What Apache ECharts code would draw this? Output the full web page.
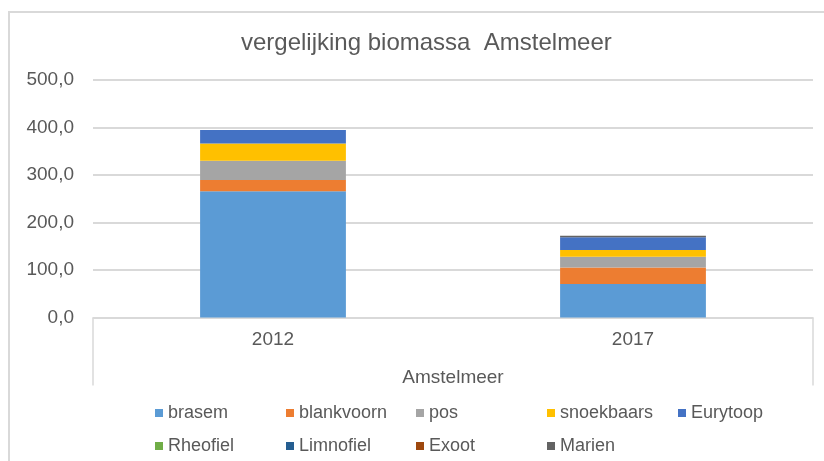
<!DOCTYPE html>
<html>
<head>
<meta charset="utf-8">
<script src="https://cdn.jsdelivr.net/npm/echarts@6/dist/echarts.min.js"></script>
<style>
  html, body { margin: 0; padding: 0; background: #ffffff; }
  #chart { width: 824px; height: 461px; }
</style>
</head>
<body>
<div id="chart"></div>
<script>
// Survey years
const years = ['2012', '2017'];

// Biomass per fish group (stacked), per year
const brasem     = [266.0, 70.5];
const blankvoorn = [23.5, 35.0];
const pos        = [40.5, 22.5];
const snoekbaars = [36.5, 14.0];
const eurytoop   = [28.0, 27.0];
const rheofiel   = [0, 0];
const limnofiel  = [0, 0];
const exoot      = [0, 0];
const marien     = [0.5, 3.0];

const yTicks = [0, 100, 200, 300, 400, 500];

const groups = [
  { name: 'brasem',     data: brasem,     color: '#5B9BD5' },
  { name: 'blankvoorn', data: blankvoorn, color: '#ED7D31' },
  { name: 'pos',        data: pos,        color: '#A5A5A5' },
  { name: 'snoekbaars', data: snoekbaars, color: '#FFC000' },
  { name: 'Eurytoop',   data: eurytoop,   color: '#4472C4' },
  { name: 'Rheofiel',   data: rheofiel,   color: '#70AD47' },
  { name: 'Limnofiel',  data: limnofiel,  color: '#255E91' },
  { name: 'Exoot',      data: exoot,      color: '#9E480E' },
  { name: 'Marien',     data: marien,     color: '#636363' }
];

// legend grid: five columns, two rows
const legendColX = [155, 286, 416, 547, 678];
const legendRowY = [404, 437];

const FONT = '"Liberation Sans", Arial, sans-serif';
const TEXT = '#595959';
const LINE = '#d9d9d9';

const chart = echarts.init(document.getElementById('chart'), null, { renderer: 'canvas' });

chart.setOption({
  animation: false,
  backgroundColor: '#ffffff',
  title: {
    text: 'vergelijking biomassa  Amstelmeer',
    left: 236,
    top: 26,
    textStyle: { fontFamily: FONT, fontSize: 24, fontWeight: 'normal', color: TEXT }
  },
  graphic: [{
    type: 'rect',
    shape: { x: 9, y: 12, width: 840, height: 470 },
    style: { fill: 'none', stroke: LINE, lineWidth: 2 },
    silent: true
  }],
  // one legend entry per cell so the entries line up in columns
  legend: groups.map((g, i) => ({
    left: legendColX[i % 5],
    top: legendRowY[Math.floor(i / 5)],
    padding: 0,
    itemWidth: 8,
    itemHeight: 8,
    icon: 'rect',
    selectedMode: false,
    data: [{ name: g.name, icon: 'rect' }],
    textStyle: { fontFamily: FONT, fontSize: 18, color: TEXT }
  })),
  grid: { left: 93, right: 11, top: 80, bottom: 143.5, containLabel: false },
  xAxis: {
    type: 'category',
    data: years,
    name: 'Amstelmeer',
    nameLocation: 'middle',
    nameGap: 51,
    nameTextStyle: { fontFamily: FONT, fontSize: 19, color: TEXT },
    axisLine: { show: true, lineStyle: { color: LINE, width: 1.5 } },
    axisTick: {
      show: true,
      length: 68,
      interval: function (i) { return i !== 1; },
      lineStyle: { color: LINE, width: 1.5 }
    },
    axisLabel: { fontFamily: FONT, fontSize: 19, color: TEXT, margin: 13 }
  },
  yAxis: {
    type: 'value',
    min: yTicks[0],
    max: yTicks[yTicks.length - 1],
    interval: yTicks[1] - yTicks[0],
    axisLine: { show: false },
    axisTick: { show: false },
    splitLine: { lineStyle: { color: LINE, width: 2 } },
    axisLabel: {
      fontFamily: FONT, fontSize: 19, color: TEXT, margin: 19,
      formatter: v => v.toFixed(1).replace('.', ',')
    }
  },
  series: groups.map(g => ({
    name: g.name,
    type: 'bar',
    stack: 'biomassa',
    barWidth: '40.5%',
    data: g.data,
    itemStyle: { color: g.color },
    emphasis: { disabled: true }
  }))
});
</script>
</body>
</html>
